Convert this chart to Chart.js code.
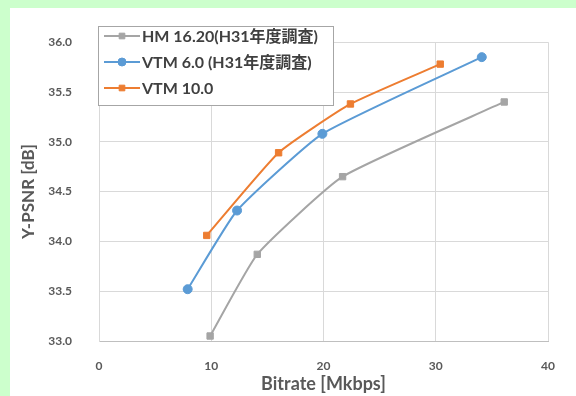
<!DOCTYPE html>
<html>
<head>
<meta charset="utf-8">
<script src="https://cdn.jsdelivr.net/npm/chart.js@4.4.1/dist/chart.umd.min.js"></script>
<style>
    html, body { margin: 0; padding: 0; background: #ccffcc; }
    #chart-wrap { position: absolute; left: 10px; top: 8px; width: 566px; height: 388px; background: #ffffff; }
</style>
</head>
<body>
<div id="chart-wrap"><canvas id="rd-curve-chart" width="566" height="388"></canvas></div>
<script>
const series_labels = ['HM 16.20(H31年度調査)', 'VTM 6.0 (H31年度調査)', 'VTM 10.0'];
const hm_bitrate = [9.9, 14.1, 21.7, 36.1];
const hm_psnr = [33.05, 33.87, 34.65, 35.40];
const vtm6_bitrate = [7.9, 12.3, 19.9, 34.1];
const vtm6_psnr = [33.52, 34.31, 35.08, 35.85];
const vtm10_bitrate = [9.6, 16.0, 22.4, 30.4];
const vtm10_psnr = [34.06, 34.89, 35.38, 35.78];
const x_tick_values = [0, 10, 20, 30, 40];
const y_tick_values = [33.0, 33.5, 34.0, 34.5, 35.0, 35.5, 36.0];

const font_family = "Lato, 'Noto Sans CJK JP', sans-serif";
const text_color = '#595959';

const to_points = (xs, ys) => xs.map((x, i) => ({ x: x, y: ys[i] }));

const rd_curve_chart = document.getElementById('rd-curve-chart');

// legend drawn inside the plot, like the excel one
const legend_box_plugin = {
    id: 'legendBox',
    afterDraw(chart) {
        const ctx = chart.ctx;
        const box = { x: 88, y: 18, w: 235, h: 79 };
        const rows = [28, 54, 80];

        ctx.save();
        ctx.fillStyle = '#ffffff';
        ctx.fillRect(box.x, box.y, box.w, box.h);
        ctx.strokeStyle = '#a6a6a6';
        ctx.lineWidth = 1;
        ctx.strokeRect(box.x + 0.5, box.y + 0.5, box.w, box.h);

        chart.data.datasets.forEach((dataset, i) => {
            const y = rows[i];
            ctx.strokeStyle = dataset.borderColor;
            ctx.lineWidth = 2;
            ctx.beginPath();
            ctx.moveTo(94, y);
            ctx.lineTo(130, y);
            ctx.stroke();

            ctx.fillStyle = dataset.backgroundColor;
            ctx.strokeStyle = dataset.borderColor;
            ctx.lineWidth = 1;
            Chart.helpers.drawPoint(ctx, {
                pointStyle: dataset.pointStyle,
                radius: 4,
                borderWidth: 1
            }, 112, y);

            ctx.fillStyle = '#404040';
            ctx.font = 'bold 16px ' + font_family;
            ctx.textBaseline = 'middle';
            ctx.textAlign = 'left';
            ctx.fillText(dataset.label, 132, y + 1);
        });
        ctx.restore();
    }
};

const make_dataset = (label, xs, ys, color, point_style) => ({
    label: label,
    data: to_points(xs, ys),
    borderColor: color,
    backgroundColor: color,
    borderWidth: 2,
    pointStyle: point_style,
    pointRadius: 4.5,
    pointBorderWidth: 1,
    tension: 0.15,
    fill: false
});

const rd_curve_chart_instance = new Chart(rd_curve_chart, {
    type: 'line',
    data: {
        datasets: [
            make_dataset(series_labels[0], hm_bitrate, hm_psnr, '#a5a5a5', 'rect'),
            make_dataset(series_labels[1], vtm6_bitrate, vtm6_psnr, '#5b9bd5', 'circle'),
            make_dataset(series_labels[2], vtm10_bitrate, vtm10_psnr, '#ed7d31', 'rect')
        ]
    },
    options: {
        responsive: false,
        animation: false,
        layout: {
            padding: { top: 16, right: 28, left: 0, bottom: 0 }
        },
        plugins: {
            legend: { display: false },
            tooltip: { enabled: false }
        },
        scales: {
            x: {
                type: 'linear',
                min: 0,
                max: 40,
                afterBuildTicks: (scale) => {
                    scale.ticks = x_tick_values.map(v => ({ value: v }));
                },
                afterFit: (scale) => {
                    scale.height = 55;
                },
                grid: {
                    color: '#d9d9d9',
                    drawTicks: false
                },
                border: { color: '#bfbfbf', width: 1 },
                ticks: {
                    padding: 18,
                    color: text_color,
                    font: { family: font_family, size: 12, weight: 'bold' }
                },
                title: {
                    display: true,
                    text: 'Bitrate [Mkbps]',
                    color: text_color,
                    padding: { top: 0, bottom: 1 },
                    font: { family: font_family, size: 18, weight: 'bold' }
                }
            },
            y: {
                min: 33,
                max: 36,
                afterBuildTicks: (scale) => {
                    scale.ticks = y_tick_values.map(v => ({ value: v }));
                },
                afterFit: (scale) => {
                    scale.width = 89;
                },
                grid: {
                    color: '#d9d9d9',
                    drawTicks: false
                },
                border: { color: '#d9d9d9', width: 1 },
                ticks: {
                    padding: 27,
                    color: text_color,
                    font: { family: font_family, size: 12, weight: 'bold' },
                    callback: (value) => value.toFixed(1)
                },
                title: {
                    display: true,
                    text: 'Y-PSNR [dB]',
                    color: text_color,
                    padding: { top: 8, bottom: 0 },
                    font: { family: font_family, size: 17, weight: 'bold' }
                }
            }
        }
    },
    plugins: [legend_box_plugin]
});
</script>
</body>
</html>
